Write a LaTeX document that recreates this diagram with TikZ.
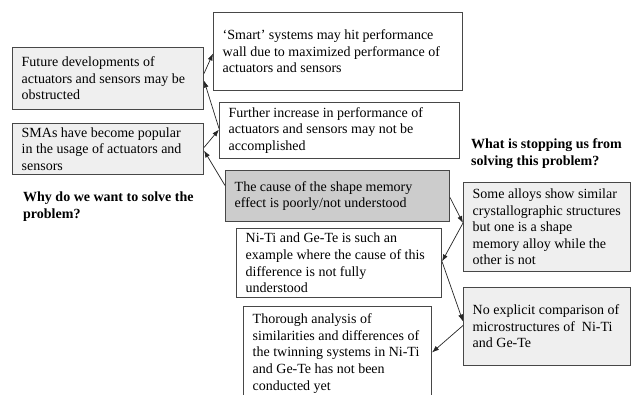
\documentclass[tikz,border=0pt]{standalone}
\usepackage{fontspec}
\setmainfont{Liberation Serif}
\usetikzlibrary{arrows.meta}
\begin{document}
\begin{tikzpicture}[x=1pt,y=-1pt,
  box/.style={draw=black!72, line width=1pt, anchor=north west, inner sep=0pt},
  txt/.style={anchor=west, align=left, inner sep=0pt, font=\fontsize{14}{16.6}\selectfont},
  lbl/.style={anchor=west, align=left, inner sep=0pt, font=\fontsize{14}{17}\selectfont\bfseries},
  arr/.style={-{Latex[length=7pt,width=5pt]}, line width=0.7pt, draw=black!85}]
\useasboundingbox (0,0) rectangle (636,394);
\definecolor{lightbox}{HTML}{EFEFEF}
\definecolor{darkbox}{HTML}{CCCCCC}
% boxes
\node[box, fill=lightbox, minimum width=191pt, minimum height=62pt] (a) at (12,47) {};
\node[box, fill=lightbox, minimum width=191pt, minimum height=51pt] (b) at (12,123) {};
\node[box, fill=white, minimum width=249pt, minimum height=78pt] (c) at (213,12) {};
\node[box, fill=white, minimum width=240pt, minimum height=56pt] (d) at (219,102) {};
\node[box, fill=darkbox, minimum width=224pt, minimum height=51pt] (e) at (225,170) {};
\node[box, fill=white, minimum width=205pt, minimum height=69pt] (f) at (236,228) {};
\node[box, fill=white, minimum width=188pt, minimum height=94pt] (g) at (243,306) {};
\node[box, fill=lightbox, minimum width=167pt, minimum height=89pt] (h) at (463,182) {};
\node[box, fill=lightbox, minimum width=167pt, minimum height=78pt] (i) at (463,287) {};
% texts
\node[txt] (at) at ([xshift=9.5pt]a.west) {Future developments of\\actuators and sensors may be\\obstructed};
\node[txt] (bt) at ([xshift=9.5pt]b.west) {SMAs have become popular\\in the usage of actuators and\\sensors};
\node[txt] (ct) at ([xshift=9.5pt]c.west) {`Smart' systems may hit performance\\wall due to maximized performance of\\actuators and sensors};
\node[txt] (dt) at ([xshift=9.5pt]d.west) {Further increase in performance of\\actuators and sensors may not be\\accomplished};
\node[txt] (et) at ([xshift=9.5pt]e.west) {The cause of the shape memory\\effect is poorly/not understood};
\node[txt] (ft) at ([xshift=9.5pt]f.west) {Ni-Ti and Ge-Te is such an\\example where the cause of this\\difference is not fully\\understood};
\node[txt] (gt) at ([xshift=9.5pt]g.west) {Thorough analysis of\\similarities and differences of\\the twinning systems in Ni-Ti\\and Ge-Te has not been\\conducted yet};
\node[txt] (ht) at ([xshift=9.5pt]h.west) {Some alloys show similar\\crystallographic structures\\but one is a shape\\memory alloy while the\\other is not};
\node[txt] (it) at ([xshift=9.5pt]i.west) {No explicit comparison of\\microstructures of~~Ni-Ti\\and Ge-Te};
% labels
\node[lbl] (why) at (23,206.5) {Why do we want to solve the\\problem?};
\node[lbl] (what) at (471,153.5) {What is stopping us from\\solving this problem?};
% arrows
\draw[arr] ([yshift=5pt]a.east) -- ([yshift=-2pt]c.west);
\draw[arr] ([yshift=2pt]d.west) -- ([yshift=-2pt]a.east);
\draw[arr] ([yshift=1.5pt]b.east) -- ([yshift=1pt]d.west);
\draw[arr] ([yshift=10.5pt]e.west) -- ([yshift=-1.5pt]b.east);
\draw[arr] ([yshift=-1.5pt]e.east) -- ([yshift=4pt]h.west);
\draw[arr] ([yshift=4pt]h.west) -- ([yshift=1.5pt]f.east);
\draw[arr] ([yshift=1.5pt]f.east) -- ([yshift=5pt]i.west);
\draw[arr] ([yshift=1pt]i.west) -- ([yshift=1pt]g.east);
\end{tikzpicture}
\end{document}
